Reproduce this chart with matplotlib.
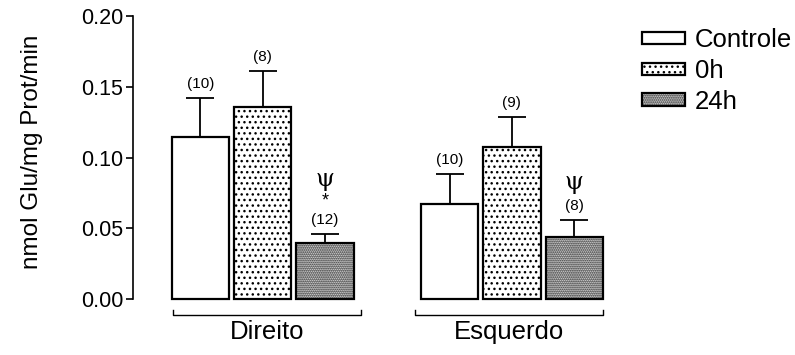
import numpy as np
import matplotlib.pyplot as plt

plt.rcParams['font.family'] = ['Liberation Sans', 'DejaVu Sans']
plt.rcParams['hatch.color'] = 'black'
plt.rcParams['hatch.linewidth'] = 1.0

# dados: captação de glutamato (média + EPM)
grupos = ['Direito', 'Esquerdo']
condicoes = ['Controle', '0h', '24h']
media_direito = [0.1145, 0.1359, 0.0398]
erro_direito = [0.0278, 0.0252, 0.0061]
media_esquerdo = [0.0669, 0.1072, 0.0440]
erro_esquerdo = [0.0212, 0.0216, 0.0118]
n_direito = [10, 8, 12]
n_esquerdo = [10, 9, 8]
sig_direito = ['', '', 'ψ*']
sig_esquerdo = ['', '', 'ψ']

medias = [media_direito, media_esquerdo]
erros = [erro_direito, erro_esquerdo]
ns = [n_direito, n_esquerdo]
sigs = [sig_direito, sig_esquerdo]

hachuras = ['', '...', '........']
largura = 0.92

fig = plt.figure(figsize=(7.95, 3.55), dpi=100)
ax = fig.add_axes([0.1673, 0.1577, 0.6122, 0.7972])

for g in range(len(grupos)):
    x = g * 4 + np.arange(len(condicoes))
    for i in range(len(condicoes)):
        ax.bar(x[i], medias[g][i], width=largura, color='white', edgecolor='black',
               linewidth=1.6, hatch=hachuras[i], label=condicoes[i] if g == 0 else None,
               zorder=2, clip_on=False)
        topo = medias[g][i] + erros[g][i]
        ax.vlines(x[i], medias[g][i], topo, color='black', linewidth=1.3, zorder=3)
        ax.hlines(topo, x[i] - 0.225, x[i] + 0.225, color='black', linewidth=1.3, zorder=3)
        ax.annotate('(%d)' % ns[g][i], (x[i], topo), xytext=(0, 10), textcoords='offset points',
                    ha='center', va='center', fontsize=11)
        s = sigs[g][i]
        if '*' in s:
            ax.annotate('*', (x[i], topo), xytext=(0, 24), textcoords='offset points',
                        ha='center', va='center', fontsize=13)
            ax.annotate('ψ', (x[i], topo), xytext=(0, 39), textcoords='offset points',
                        ha='center', va='center', fontsize=17.5, family='DejaVu Serif')
        elif 'ψ' in s:
            ax.annotate('ψ', (x[i], topo), xytext=(0, 27), textcoords='offset points',
                        ha='center', va='center', fontsize=17.5, family='DejaVu Serif')

    # colchete do grupo abaixo das barras
    esq = g * 4 - 0.44 - g * 0.12
    dir_ = esq + 3.02
    ax.plot([esq, esq, dir_, dir_], [-0.008, -0.0113, -0.0113, -0.008], color='black',
            linewidth=1.0, clip_on=False)
    ax.text((esq + dir_) / 2, -0.0235, grupos[g], ha='center', va='center', fontsize=18.5)

ax.set_xlim(-1.083, 6.73)
ax.set_ylim(0, 0.2)
ax.set_yticks([0.00, 0.05, 0.10, 0.15, 0.20])
ax.set_yticklabels(['0.00', '0.05', '0.10', '0.15', '0.20'])
ax.tick_params(axis='y', direction='out', length=5, width=1.2, labelsize=15.5, pad=2)
ax.set_xticks([])
for lado in ['top', 'right', 'bottom']:
    ax.spines[lado].set_visible(False)
ax.spines['left'].set_linewidth(1.2)
ax.set_ylabel('nmol Glu/mg Prot/min', fontsize=17.5)
ax.yaxis.set_label_coords(-0.185, 0.52)

fig.legend(loc='upper left', bbox_to_anchor=(0.808, 0.92), frameon=False, fontsize=18.5,
           handlelength=1.65, handleheight=0.35, handletextpad=0.4, labelspacing=0.26,
           borderpad=0, borderaxespad=0)

fig.savefig('out.png', dpi=100)
